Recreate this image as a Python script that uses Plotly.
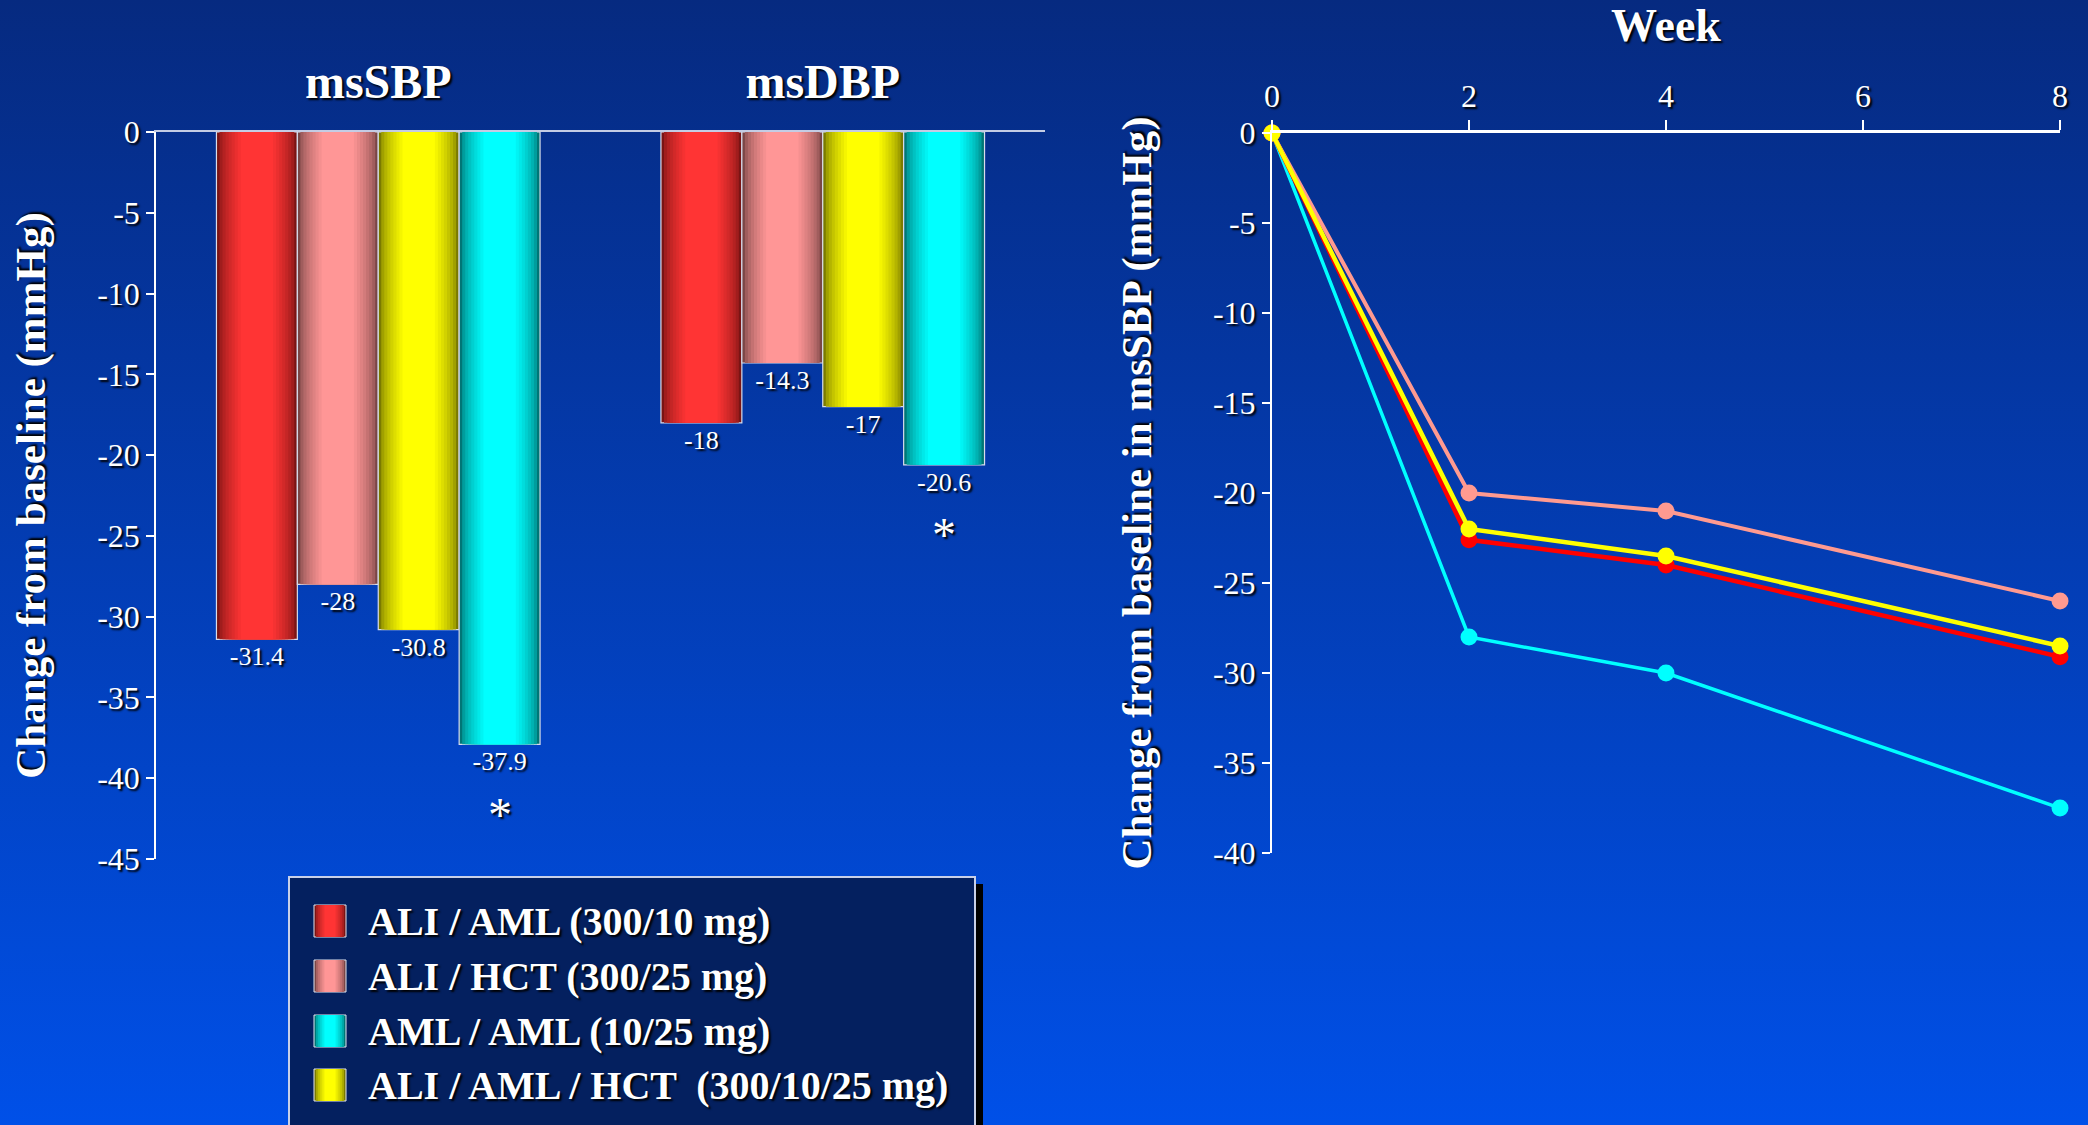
import base64
import plotly.graph_objects as go

# ---------------- data ----------------
groups = ["msSBP", "msDBP"]

bar_names = ["ALI / AML (300/10 mg)", "ALI / HCT (300/25 mg)",
             "ALI / AML / HCT  (300/10/25 mg)", "AML / AML (10/25 mg)"]
ali_aml = [-31.4, -18]
ali_hct = [-28, -14.3]
ali_aml_hct = [-30.8, -17]
aml_aml = [-37.9, -20.6]

weeks = [0, 2, 4, 8]
ali_aml_wk = [0, -22.6, -24.0, -29.1]
ali_hct_wk = [0, -20.0, -21.0, -26.0]
ali_aml_hct_wk = [0, -22.0, -23.5, -28.5]
aml_aml_wk = [0, -28.0, -30.0, -37.5]

y_ticks_left = [0, -5, -10, -15, -20, -25, -30, -35, -40, -45]
y_labels_left = ["0", "-5", "-10", "-15", "-20", "-25", "-30", "-35", "-40", "-45"]
y_ticks_right = [0, -5, -10, -15, -20, -25, -30, -35, -40]
y_labels_right = ["0", "-5", "-10", "-15", "-20", "-25", "-30", "-35", "-40"]
x_ticks_right = [0, 2, 4, 6, 8]

legend_order = [0, 1, 3, 2]  # red, pink, cyan, yellow

# ---------------- styles ----------------
SERIF = "Liberation Serif, Times New Roman, serif"
SHADOW = "2px 2px 2px #000000"
W, H = 2088, 1125

bar_values = [ali_aml, ali_hct, ali_aml_hct, aml_aml]
bar_dark = ["#7a1414", "#7a4646", "#7a7a00", "#007676"]
bar_bright = ["#ff3434", "#ff9696", "#ffff00", "#00ffff"]

line_values = [aml_aml_wk, ali_hct_wk, ali_aml_wk, ali_aml_hct_wk]
line_colors = ["#00ffff", "#ff9a90", "#ff0000", "#ffff00"]
line_widths = [3.5, 4, 4.5, 4.5]


def mix(c1, c2, t):
    a = [int(c1[i:i + 2], 16) for i in (1, 3, 5)]
    b = [int(c2[i:i + 2], 16) for i in (1, 3, 5)]
    return "#" + "".join(f"{round(a[j] + (b[j] - a[j]) * t):02x}" for j in range(3))


def fmt(v):
    return f"{v:g}"


fig = go.Figure()

# gradient bars: layered overlay bars of decreasing width
bw = 0.182
group_left = -0.364
n_layers = 9
for i, vals in enumerate(bar_values):
    left = group_left + i * bw
    for k in range(n_layers):
        f = 1 - k * 0.075
        t = (k / (n_layers - 1)) ** 0.6
        col = mix(bar_dark[i], bar_bright[i], t)
        if k == 0:
            kw = dict(text=[fmt(v) for v in vals], texttemplate="%{text}",
                      textposition="outside",
                      textfont=dict(family=SERIF, size=26, color="white", shadow=SHADOW),
                      marker_line=dict(color="#d8dcec", width=1.2))
        else:
            kw = dict(marker_line=dict(width=0), hoverinfo="skip")
        fig.add_trace(go.Bar(
            x=groups, y=vals, xaxis="x", yaxis="y",
            name=bar_names[i], legendgroup=bar_names[i], showlegend=False,
            marker_color=col, width=f * bw, offset=left + (1 - f) / 2 * bw,
            cliponaxis=False, **kw))

# lines
for vals, col, lw in zip(line_values, line_colors, line_widths):
    fig.add_trace(go.Scatter(
        x=weeks, y=vals, xaxis="x2", yaxis="y2", mode="lines+markers",
        line=dict(color=col, width=lw), marker=dict(color=col, size=17),
        showlegend=False, cliponaxis=False))

# asterisks below the AML/AML bars
for g, v in enumerate(aml_aml):
    fig.add_annotation(x=g + group_left + 3.5 * bw, y=v, xref="x", yref="y",
                       yshift=-70, text="*", showarrow=False,
                       font=dict(family=SERIF, size=48, color="white", shadow=SHADOW))

# background gradient
svg = ('<svg xmlns="http://www.w3.org/2000/svg" width="100" height="100" preserveAspectRatio="none">'
       '<defs><linearGradient id="g" x1="0" y1="0" x2="0" y2="1">'
       '<stop offset="0" stop-color="#062a80"/><stop offset="1" stop-color="#0050e8"/>'
       '</linearGradient></defs><rect width="100" height="100" fill="url(#g)"/></svg>')
bg_uri = "data:image/svg+xml;base64," + base64.b64encode(svg.encode()).decode()
fig.add_layout_image(source=bg_uri, xref="paper", yref="paper", x=0, y=1,
                     sizex=1, sizey=1, xanchor="left", yanchor="top",
                     sizing="stretch", layer="below")

# ---------------- legend box (drawn) ----------------
def px(x):
    return x / W


def py(y):
    return 1 - y / H


fig.add_shape(type="rect", xref="paper", yref="paper",
              x0=px(296), x1=px(983), y0=py(1140), y1=py(884),
              fillcolor="#000000", line_width=0, layer="above")
fig.add_shape(type="rect", xref="paper", yref="paper",
              x0=px(289), x1=px(975), y0=py(1140), y1=py(877),
              fillcolor="#04205f", line=dict(color="#c8d0e8", width=2), layer="above")

row_y = [921, 976, 1031, 1085]
sw = 32
for r, i in enumerate(legend_order):
    cy = row_y[r]
    x0 = 314
    n = 6
    for k in range(n):
        f = 1 - k * 0.13
        t = (k / (n - 1)) ** 0.6
        w = sw * f
        xa = x0 + (sw - w) / 2
        fig.add_shape(type="rect", xref="paper", yref="paper",
                      x0=px(xa), x1=px(xa + w), y0=py(cy + sw / 2), y1=py(cy - sw / 2),
                      fillcolor=mix(bar_dark[i], bar_bright[i], t),
                      line=dict(color="#e0e4f0", width=1) if k == 0 else dict(width=0),
                      layer="above")
    fig.add_annotation(xref="paper", yref="paper", x=px(366), y=py(cy),
                       xanchor="left", yanchor="middle", text=bar_names[i],
                       showarrow=False,
                       font=dict(family=SERIF, size=40, color="white", weight="bold",
                                 shadow=SHADOW))

tickfont = dict(family=SERIF, size=32, color="white", shadow=SHADOW)
titlefont = dict(family=SERIF, size=43, color="white", weight="bold", shadow=SHADOW)

fig.update_layout(
    width=W, height=H,
    margin=dict(l=0, r=0, t=0, b=0),
    paper_bgcolor="#033ca8", plot_bgcolor="rgba(0,0,0,0)",
    barmode="overlay", showlegend=False,
    font=dict(family=SERIF, color="white"),
    xaxis=dict(domain=[156 / W, 1045 / W], anchor="y", type="category",
               range=[-0.5, 1.5], side="top", showline=True, linecolor="#c4cce4",
               linewidth=2, ticks="", showgrid=False, zeroline=False,
               tickfont=dict(family=SERIF, size=48, color="white", weight="bold", shadow=SHADOW),
               ticklabelstandoff=13, automargin=False),
    yaxis=dict(domain=[1 - 859 / H, 1 - 132 / H], anchor="x", range=[-45, 0],
               tickvals=y_ticks_left, ticktext=y_labels_left, ticks="outside", ticklen=8,
               tickwidth=1.5, tickcolor="white", showline=True, linecolor="white",
               linewidth=1.5, showgrid=False, zeroline=False, tickfont=tickfont,
               title=dict(text="Change from baseline (mmHg)", font=titlefont, standoff=38),
               automargin=False),
    xaxis2=dict(domain=[1272 / W, 2060 / W], anchor="y2", range=[0, 8],
                tickvals=x_ticks_right, side="top", ticks="outside", ticklen=10,
                tickwidth=2, tickcolor="white", showline=True, linecolor="white",
                linewidth=2.5, showgrid=False, zeroline=False, tickfont=tickfont,
                title=dict(text="Week", font=dict(family=SERIF, size=46, color="white",
                                                 weight="bold", shadow=SHADOW), standoff=27),
                automargin=False),
    yaxis2=dict(domain=[1 - 853 / H, 1 - 133 / H], anchor="x2", range=[-40, 0],
                tickvals=y_ticks_right, ticktext=y_labels_right, ticks="outside", ticklen=8,
                tickwidth=1.5, tickcolor="white", showline=True, linecolor="white",
                linewidth=2, showgrid=False, zeroline=False, tickfont=tickfont,
                title=dict(text="Change from baseline in msSBP (mmHg)", font=titlefont,
                           standoff=48),
                automargin=False),
)

fig.write_html("out.html")
